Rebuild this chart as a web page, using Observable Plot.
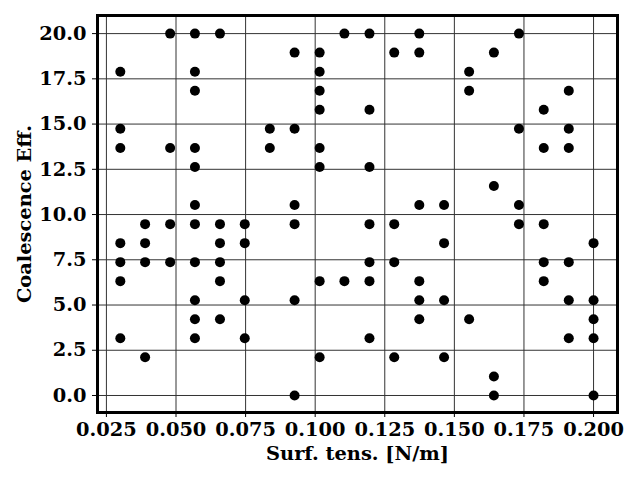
<!DOCTYPE html>
<html>
<head>
<meta charset="utf-8">
<script src="https://cdn.jsdelivr.net/npm/d3@7"></script>
<script src="https://cdn.jsdelivr.net/npm/@observablehq/plot@0.6"></script>
<style>
  html, body { margin: 0; padding: 0; background: #fff; }
</style>
</head>
<body>
<div id="chart"></div>
<script>
const surfTens = [
  0.0300, 0.0300, 0.0300, 0.0300, 0.0300, 0.0300, 0.0300,
  0.0389, 0.0389, 0.0389, 0.0389,
  0.0479, 0.0479, 0.0479, 0.0479,
  0.0568, 0.0568, 0.0568, 0.0568, 0.0568, 0.0568, 0.0568, 0.0568, 0.0568, 0.0568, 0.0568,
  0.0658, 0.0658, 0.0658, 0.0658, 0.0658, 0.0658,
  0.0747, 0.0747, 0.0747, 0.0747,
  0.0837, 0.0837,
  0.0926, 0.0926, 0.0926, 0.0926, 0.0926, 0.0926,
  0.1016, 0.1016, 0.1016, 0.1016, 0.1016, 0.1016, 0.1016, 0.1016,
  0.1105, 0.1105,
  0.1195, 0.1195, 0.1195, 0.1195, 0.1195, 0.1195, 0.1195,
  0.1284, 0.1284, 0.1284, 0.1284,
  0.1374, 0.1374, 0.1374, 0.1374, 0.1374, 0.1374,
  0.1463, 0.1463, 0.1463, 0.1463,
  0.1553, 0.1553, 0.1553,
  0.1642, 0.1642, 0.1642, 0.1642,
  0.1732, 0.1732, 0.1732, 0.1732,
  0.1821, 0.1821, 0.1821, 0.1821, 0.1821,
  0.1911, 0.1911, 0.1911, 0.1911, 0.1911, 0.1911,
  0.2000, 0.2000, 0.2000, 0.2000, 0.2000
];
const coalEff = [
  17.89, 14.74, 13.68, 8.42, 7.37, 6.32, 3.16,
  9.47, 8.42, 7.37, 2.11,
  20.0, 13.68, 9.47, 7.37,
  20.0, 17.89, 16.84, 13.68, 12.63, 10.53, 9.47, 7.37, 5.26, 4.21, 3.16,
  20.0, 9.47, 8.42, 7.37, 6.32, 4.21,
  9.47, 8.42, 5.26, 3.16,
  14.74, 13.68,
  18.95, 14.74, 10.53, 9.47, 5.26, 0.0,
  18.95, 17.89, 16.84, 15.79, 13.68, 12.63, 6.32, 2.11,
  20.0, 6.32,
  20.0, 15.79, 12.63, 9.47, 7.37, 6.32, 3.16,
  18.95, 9.47, 7.37, 2.11,
  20.0, 18.95, 10.53, 6.32, 5.26, 4.21,
  10.53, 8.42, 5.26, 2.11,
  17.89, 16.84, 4.21,
  18.95, 11.58, 1.05, 0.0,
  20.0, 14.74, 10.53, 9.47,
  15.79, 13.68, 9.47, 7.37, 6.32,
  16.84, 14.74, 13.68, 7.37, 5.26, 3.16,
  8.42, 5.26, 4.21, 3.16, 0.0
];
const xTicks = [0.025, 0.050, 0.075, 0.100, 0.125, 0.150, 0.175, 0.200];
const yTicks = [0.0, 2.5, 5.0, 7.5, 10.0, 12.5, 15.0, 17.5, 20.0];
const xLabel = "Surf. tens. [N/m]";
const yLabel = "Coalescence Eff.";

const data = surfTens.map((x, i) => ({x, y: coalEff[i]}));

const font = "'DejaVu Serif', serif";
const fs = 19.4;

const chart = Plot.plot({
  width: 640,
  height: 480,
  marginLeft: 97,
  marginRight: 23,
  marginTop: 15,
  marginBottom: 68,
  style: {fontFamily: font, fontWeight: "bold", fontSize: fs + "px", background: "#fff", color: "#000"},
  x: {domain: [0.0218, 0.2086]},
  y: {domain: [-0.94, 21.0]},
  marks: [
    Plot.gridX(xTicks, {stroke: "#333", strokeOpacity: 1, strokeWidth: 1}),
    Plot.gridY(yTicks, {stroke: "#333", strokeOpacity: 1, strokeWidth: 1}),
    Plot.axisX(xTicks, {tickFormat: d3.format(".3f"), tickSize: 5, tickPadding: 5, fontSize: fs, fontWeight: "bold", label: null, stroke: "#000"}),
    Plot.axisY(yTicks, {tickFormat: d3.format(".1f"), tickSize: 5, tickPadding: 6, fontSize: fs, fontWeight: "bold", label: null, stroke: "#000"}),
    Plot.dot(data, {x: "x", y: "y", r: 5, fill: "#000", stroke: "none"}),
    Plot.frame({stroke: "#000", strokeWidth: 3}),
    Plot.text([xLabel], {frameAnchor: "bottom", dy: 41, textAnchor: "middle", lineAnchor: "middle", fontSize: fs, fontWeight: "bold", fill: "#000"}),
    Plot.text([yLabel], {frameAnchor: "left", dx: -73, rotate: -90, textAnchor: "middle", lineAnchor: "middle", fontSize: fs, fontWeight: "bold", fill: "#000"})
  ]
});
document.getElementById("chart").appendChild(chart);
</script>
</body>
</html>
